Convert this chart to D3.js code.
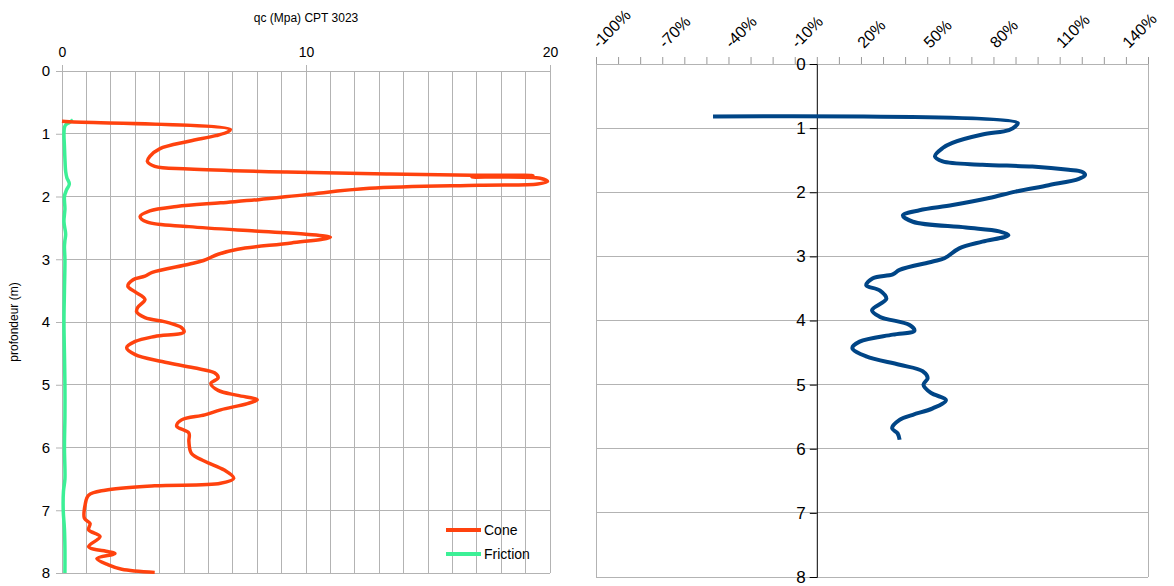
<!DOCTYPE html>
<html>
<head>
<meta charset="utf-8">
<script src="https://cdn.jsdelivr.net/npm/d3@7"></script>
<style>
html,body{margin:0;padding:0;background:#fff;}
svg text{font-family:"Liberation Sans",Arial,sans-serif;fill:#000;}
</style>
</head>
<body>
<svg id="chart" width="1174" height="586"></svg>
<script>
// ---------- DATA ----------
const coneDepth = [0.80,0.81,0.93,0.97,1.03,1.12,1.24,1.36,1.44,1.52,1.56,1.61,1.64,1.66,1.665,1.69,1.71,1.76,1.80,1.82,1.87,1.97,2.05,2.10,2.16,2.23,2.32,2.41,2.48,2.55,2.60,2.65,2.74,2.84,2.92,3.02,3.08,3.21,3.27,3.33,3.43,3.52,3.64,3.77,3.84,3.93,4.01,4.09,4.16,4.23,4.31,4.41,4.52,4.63,4.73,4.81,4.89,4.98,5.09,5.17,5.24,5.30,5.40,5.48,5.56,5.66,5.77,5.90,6.09,6.22,6.36,6.49,6.57,6.61,6.68,6.76,6.91,7.13,7.21,7.31,7.42,7.58,7.66,7.69,7.77,7.87,7.94,7.99];
const coneValue = [0.0,0.3,6.9,6.8,6.3,5.2,4.0,3.6,3.5,3.8,5.2,9.2,13.3,16.8,19.3,16.8,19.6,19.9,19.5,17.1,12.6,10.0,8.05,6.5,4.7,3.6,3.2,3.5,5.2,7.9,10.0,11.0,9.4,7.2,6.4,5.8,5.2,3.7,3.4,2.9,2.7,3.0,3.4,3.1,3.06,3.4,4.35,4.9,5.0,3.8,3.0,2.65,3.0,4.1,5.4,6.25,6.4,6.1,6.4,7.2,8.0,7.6,6.5,5.85,4.9,4.7,5.2,5.2,5.3,5.85,6.65,7.04,6.5,3.8,1.77,1.09,0.95,0.92,1.15,1.09,1.56,1.09,1.9,2.17,1.43,1.9,2.45,3.8];

const frictionDepth = [0.78,0.82,0.86,0.90,1.00,1.20,1.40,1.60,1.70,1.80,1.90,2.00,2.20,2.40,2.60,2.70,2.80,3.00,3.50,4.00,4.50,5.00,5.50,6.00,6.50,6.70,7.00,7.30,7.60,8.00];
const frictionValue = [0.45,0.30,0.15,0.10,0.08,0.10,0.12,0.15,0.20,0.30,0.18,0.10,0.12,0.08,0.15,0.12,0.10,0.12,0.10,0.08,0.10,0.12,0.12,0.10,0.12,0.06,0.05,0.10,0.12,0.12];

const ratioDepth = [0.82,0.92,0.97,1.03,1.10,1.23,1.31,1.44,1.52,1.57,1.60,1.65,1.68,1.73,1.79,1.89,1.99,2.09,2.20,2.28,2.36,2.46,2.55,2.61,2.67,2.77,2.875,3.03,3.08,3.21,3.28,3.34,3.45,3.53,3.66,3.84,3.94,4.07,4.16,4.22,4.33,4.43,4.56,4.69,4.79,4.90,5.00,5.13,5.24,5.37,5.47,5.55,5.68,5.76,5.86];
const ratioValue = [-47,91,90,87,75,61.4,57,53.5,57,75,97.6,114,120,121.5,118.7,105,90,78,61.5,46.5,39,43.5,67.5,82.6,86.8,75,64.5,57.8,52.5,37.5,34.4,25.4,22.4,28.5,31.5,25.0,28.4,42,44.2,34.4,19.4,16.1,22.4,37.5,47.9,50.2,48.3,51.7,58.5,52.5,43.5,37.5,34.1,36.6,37.5];

const depthTicks = [0,1,2,3,4,5,6,7,8];
const qcTickLabels = [0,10,20];
const pctLabelTicks = [-100,-70,-40,-10,20,50,80,110,140];
const legendNames = ["Cone","Friction"];
const chartTitle = "qc (Mpa) CPT 3023";
const depthTitle = "profondeur (m)";

// ---------- STYLE ----------
const gridColor = "#b3b3b3";
const coneColor = "#ff420e";
const frictionColor = "#3cf096";
const ratioColor = "#004586";

const svg = d3.select("#chart");

// ---------- LEFT CHART ----------
const xL = d3.scaleLinear().domain([0,20]).range([62,550]);
const yL = d3.scaleLinear().domain([0,8]).range([71,573]);

const gL = svg.append("g");
gL.append("g").selectAll("line").data(d3.range(0,21)).join("line")
  .attr("x1",d=>xL(d)).attr("x2",d=>xL(d)).attr("y1",yL(0)).attr("y2",yL(8))
  .attr("stroke",gridColor).attr("stroke-width",1).attr("shape-rendering","crispEdges");
gL.append("g").selectAll("line").data(depthTicks).join("line")
  .attr("x1",xL(0)).attr("x2",xL(20)).attr("y1",d=>yL(d)).attr("y2",d=>yL(d))
  .attr("stroke",gridColor).attr("stroke-width",1).attr("shape-rendering","crispEdges");

const axTopL = gL.append("g").attr("transform",`translate(0,${yL(0)})`)
  .call(d3.axisTop(xL).tickValues(qcTickLabels).tickSize(6).tickPadding(8));
axTopL.select(".domain").remove();
axTopL.selectAll("line").attr("stroke",gridColor);
axTopL.selectAll("text").style("font-size","14px").attr("fill","#000");

const axLeftL = gL.append("g").attr("transform",`translate(${xL(0)},0)`)
  .call(d3.axisLeft(yL).tickValues(depthTicks).tickSize(6).tickPadding(6));
axLeftL.select(".domain").remove();
axLeftL.selectAll("line").attr("stroke",gridColor);
axLeftL.selectAll("text").style("font-size","15px").attr("fill","#000");

gL.append("text").attr("x",(xL(0)+xL(20))/2).attr("y",22).attr("text-anchor","middle")
  .style("font-size","12px").text(chartTitle);
gL.append("text").attr("transform",`translate(18,${(yL(0)+yL(8))/2}) rotate(-90)`)
  .attr("text-anchor","middle").style("font-size","12px").text(depthTitle);

const lineL = d3.line().x(d=>xL(d[1])).y(d=>yL(d[0])).curve(d3.curveCatmullRom.alpha(0.5));
gL.append("path").datum(frictionDepth.map((d,i)=>[d,frictionValue[i]]))
  .attr("d",lineL).attr("fill","none").attr("stroke",frictionColor).attr("stroke-width",3.5);
gL.append("path").datum(coneDepth.map((d,i)=>[d,coneValue[i]]))
  .attr("d",lineL).attr("fill","none").attr("stroke",coneColor).attr("stroke-width",3.5)
  .attr("stroke-linejoin","round");

const legColors = [coneColor, frictionColor];
const leg = gL.append("g").selectAll("g").data(legendNames).join("g")
  .attr("transform",(d,i)=>`translate(446,${530+i*24})`);
leg.append("line").attr("x1",0).attr("x2",35).attr("y1",0).attr("y2",0)
  .attr("stroke",(d,i)=>legColors[i]).attr("stroke-width",4);
leg.append("text").attr("x",38).attr("y",5).style("font-size","14px").text(d=>d);

// ---------- RIGHT CHART ----------
const xR = d3.scaleLinear().domain([-100,150]).range([596,1148]);
const yR = d3.scaleLinear().domain([0,8]).range([64,577]);
const gR = svg.append("g");

gR.append("g").selectAll("line").data(depthTicks).join("line")
  .attr("x1",xR(-100)).attr("x2",xR(150)).attr("y1",d=>yR(d)).attr("y2",d=>yR(d))
  .attr("stroke",gridColor).attr("stroke-width",1).attr("shape-rendering","crispEdges");
gR.append("g").selectAll("line").data([-100,150]).join("line")
  .attr("x1",d=>xR(d)).attr("x2",d=>xR(d)).attr("y1",yR(0)).attr("y2",yR(8))
  .attr("stroke",gridColor).attr("stroke-width",1).attr("shape-rendering","crispEdges");

const axTopR = gR.append("g").attr("transform",`translate(0,${yR(0)})`)
  .call(d3.axisTop(xR).tickValues(d3.range(-100,151,10)).tickSize(7).tickFormat(""));
axTopR.select(".domain").remove();
axTopR.selectAll("line").attr("stroke","#999");
gR.append("g").selectAll("text").data(pctLabelTicks).join("text")
  .attr("transform",d=>`translate(${xR(d)+3},49) rotate(-45)`)
  .attr("text-anchor","start").style("font-size","16px").text(d=>d+"%");

const axY = gR.append("g").attr("transform",`translate(${xR(0)},0)`)
  .call(d3.axisLeft(yR).tickValues(depthTicks).tickSize(7).tickPadding(4));
axY.select(".domain").attr("stroke","#000");
axY.selectAll("line").attr("stroke","#000");
axY.selectAll("text").style("font-size","17px").attr("fill","#000");

const lineR = d3.line().x(d=>xR(d[1])).y(d=>yR(d[0])).curve(d3.curveCatmullRom.alpha(0.5));
gR.append("path").datum(ratioDepth.map((d,i)=>[d,ratioValue[i]]))
  .attr("d",lineR).attr("fill","none").attr("stroke",ratioColor).attr("stroke-width",4)
  .attr("stroke-linejoin","round");
</script>
</body>
</html>
